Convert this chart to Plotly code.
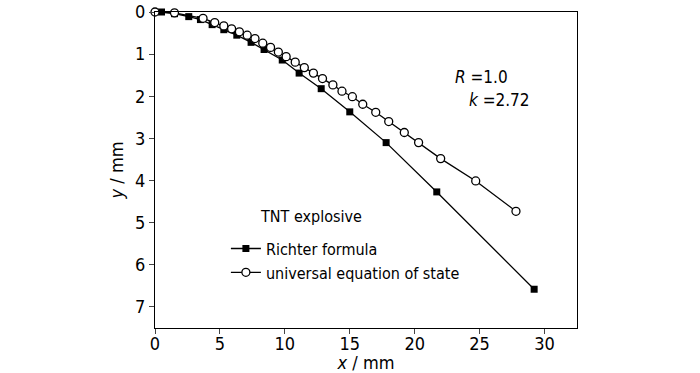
import plotly.graph_objects as go

# Richter formula (filled squares)
richter_x = [0.5, 1.5, 2.6, 3.5, 4.4, 5.3, 6.3, 7.4, 8.4, 9.8, 11.1, 12.8, 15.0, 17.8, 21.7, 29.2]
richter_y = [0.0, 0.04, 0.11, 0.18, 0.30, 0.42, 0.55, 0.72, 0.89, 1.14, 1.45, 1.82, 2.37, 3.10, 4.27, 6.58]

# universal equation of state (open circles)
ueos_x = [0.0, 1.5, 3.7, 4.6, 5.3, 5.9, 6.5, 7.1, 7.7, 8.3, 8.9, 9.5, 10.1, 10.8, 11.5,
          12.2, 12.9, 13.7, 14.4, 15.2, 16.0, 17.0, 18.0, 19.2, 20.3, 22.0, 24.7, 27.8]
ueos_y = [0.0, 0.02, 0.15, 0.25, 0.33, 0.40, 0.47, 0.55, 0.63, 0.74, 0.84, 0.95, 1.06, 1.19, 1.32,
          1.45, 1.58, 1.73, 1.88, 2.01, 2.19, 2.38, 2.60, 2.86, 3.10, 3.48, 4.01, 4.73]

x_ticks = [0, 5, 10, 15, 20, 25, 30]
y_ticks = [0, 1, 2, 3, 4, 5, 6, 7]

FONT = "DejaVu Sans Condensed, Liberation Sans Narrow, Liberation Sans, Arial, sans-serif"

fig = go.Figure()
fig.add_trace(go.Scatter(
    x=richter_x, y=richter_y, mode="lines+markers", name="Richter formula",
    line=dict(color="black", width=1.3),
    marker=dict(symbol="square", size=7, color="black"),
    cliponaxis=False,
))
fig.add_trace(go.Scatter(
    x=ueos_x, y=ueos_y, mode="lines+markers", name="universal equation of state",
    line=dict(color="black", width=1.3),
    marker=dict(symbol="circle", size=8, color="white", line=dict(color="black", width=1.3)),
    cliponaxis=False,
))

fig.update_layout(
    width=700, height=373,
    margin=dict(l=155, r=123, t=12, b=45, autoexpand=False),
    paper_bgcolor="white", plot_bgcolor="white",
    font=dict(family=FONT, size=17, color="black"),
    showlegend=True,
    legend=dict(x=0.168, y=0.305, xanchor="left", yanchor="top",
                bgcolor="rgba(0,0,0,0)", font=dict(size=16, family=FONT, color="black"),
                tracegroupgap=0, itemwidth=30),
    xaxis=dict(range=[0, 32.5], tickvals=x_ticks, ticks="outside", ticklen=5,
               showline=True, linecolor="black", linewidth=1, mirror=True,
               showgrid=False, zeroline=False, automargin=False,
               ticklabelstandoff=-6,
               tickfont=dict(size=18, color="black"),
               title=dict(text="<i>x</i> / mm", standoff=0, font=dict(size=18, color="black"))),
    yaxis=dict(range=[7.5, 0], tickvals=y_ticks, ticks="outside", ticklen=5,
               showline=True, linecolor="black", linewidth=1, mirror=True,
               showgrid=False, zeroline=False, automargin=False,
               tickfont=dict(size=18, color="black"),
               title=dict(text="<i>y</i> / mm", standoff=6, font=dict(size=18, color="black"))),
    annotations=[
        dict(text="TNT explosive", x=0.245, y=0.354, xref="paper", yref="paper",
             xanchor="left", yanchor="middle", showarrow=False,
             font=dict(size=16, color="black")),
        dict(text="<i>R</i> =1.0", x=0.705, y=0.795, xref="paper", yref="paper",
             xanchor="left", yanchor="middle", showarrow=False,
             font=dict(size=17, color="black")),
        dict(text="<i>k</i> =2.72", x=0.739, y=0.72, xref="paper", yref="paper",
             xanchor="left", yanchor="middle", showarrow=False,
             font=dict(size=17, color="black")),
    ],
)

fig.write_html("out.html", config={"displayModeBar": False},
               post_script="document.body.style.margin='0';document.body.style.overflow='hidden';")
